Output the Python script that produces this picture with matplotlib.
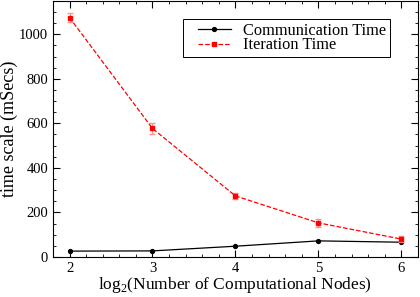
import matplotlib.pyplot as plt
from matplotlib.ticker import MultipleLocator
from matplotlib.legend_handler import HandlerLine2D

plt.rcParams['font.family'] = ['Liberation Serif', 'DejaVu Serif']
plt.rcParams['mathtext.fontset'] = 'custom'
plt.rcParams['mathtext.rm'] = 'Liberation Serif'

# data
nodes_log2 = [2, 3, 4, 5, 6]
comm_time = [26, 27, 48, 72, 66]
iter_time = [1075, 577, 274, 153, 80]
iter_err = [20, 25, 15, 18, 15]

fig = plt.figure(figsize=(4.2, 2.97), dpi=100)
ax = fig.add_axes([0.126, 0.135, 0.869, 0.862])

comm_line, = ax.plot(nodes_log2, comm_time, color='black', lw=0.9, marker='o', ms=2.8,
                     label='Communication Time')
ax.errorbar(nodes_log2, iter_time, yerr=iter_err, fmt='none', ecolor='#ff9090',
            elinewidth=0.9, capsize=2)
iter_line, = ax.plot(nodes_log2, iter_time, color='red', ls='--', lw=0.9,
                     marker='s', ms=3.5, label='Iteration Time')

ax.set_xlim(1.8, 6.2)
ax.set_ylim(0, 1150)
ax.xaxis.set_major_locator(MultipleLocator(1))
ax.xaxis.set_minor_locator(MultipleLocator(0.2))
ax.yaxis.set_major_locator(MultipleLocator(200))
ax.yaxis.set_minor_locator(MultipleLocator(50))
ax.tick_params(which='both', direction='in', top=True, right=True, labelsize=10.5)
ax.tick_params(which='major', length=5, width=0.8)
ax.tick_params(which='minor', length=2.5, width=0.6)
for s in ax.spines.values():
    s.set_linewidth(0.8)

ax.set_xlabel(r'log$_2$(Number of Computational Nodes)', fontsize=12.5)
ax.set_ylabel('time scale (mSecs)', fontsize=13)
ax.yaxis.set_label_coords(-0.097, 0.5)
ax.xaxis.set_label_coords(0.5, -0.07)

leg = ax.legend(handles=[comm_line, iter_line], loc='upper right',
                bbox_to_anchor=(0.923, 0.93), fontsize=11.8,
                fancybox=False, edgecolor='black', framealpha=1, borderpad=0.25,
                handlelength=2.7, handletextpad=0.7, labelspacing=-0.1,
                borderaxespad=0,
                handler_map={comm_line: HandlerLine2D(xpad=0.65),
                             iter_line: HandlerLine2D(xpad=0.65)})
leg.get_frame().set_linewidth(0.7)

plt.savefig('out.png', dpi=100)
